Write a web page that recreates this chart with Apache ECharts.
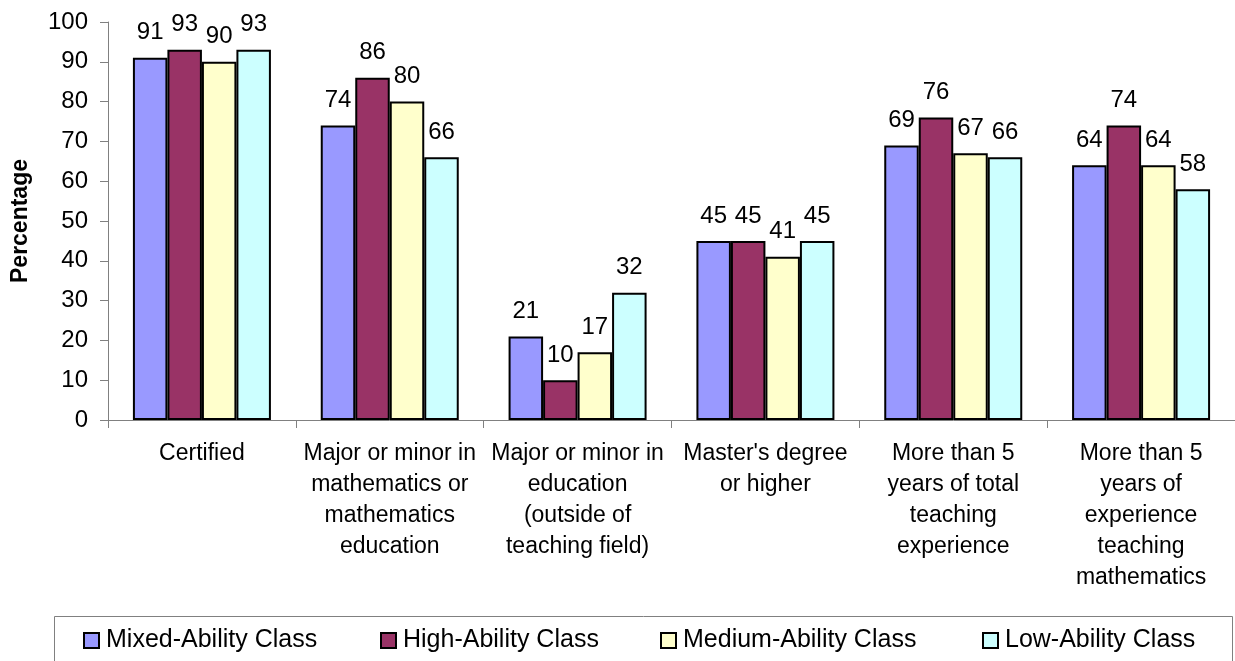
<!DOCTYPE html>
<html>
<head>
<meta charset="utf-8">
<script src="https://cdn.jsdelivr.net/npm/echarts@6/dist/echarts.min.js"></script>
<style>
  html, body { margin: 0; padding: 0; background: #fff; }
  #chart { width: 1235px; height: 661px; }
</style>
</head>
<body>
<div id="chart"></div>
<script>
// Teacher qualifications by class ability level (percentages)
const categories = [
  "Certified",
  "Major or minor in\nmathematics or\nmathematics\neducation",
  "Major or minor in\neducation\n(outside of\nteaching field)",
  "Master's degree\nor higher",
  "More than 5\nyears of total\nteaching\nexperience",
  "More than 5\nyears of\nexperience\nteaching\nmathematics"
];
const seriesNames = ["Mixed-Ability Class", "High-Ability Class", "Medium-Ability Class", "Low-Ability Class"];
const mixedAbility = [91, 74, 21, 45, 69, 64];
const highAbility = [93, 86, 10, 45, 76, 74];
const mediumAbility = [90, 80, 17, 41, 67, 64];
const lowAbility = [93, 66, 32, 45, 66, 58];
const yTicks = { min: 0, max: 100, interval: 10 };

const colors = ["#9999FF", "#993366", "#FFFFCC", "#CCFFFF"];
const FONT = "Liberation Sans, Arial, sans-serif";
const allValues = [mixedAbility, highAbility, mediumAbility, lowAbility];

const chart = echarts.init(document.getElementById("chart"), null, { renderer: "canvas" });

const series = seriesNames.map((name, i) => ({
  name: name,
  type: "bar",
  data: allValues[i],
  barWidth: 34.5,
  barGap: "0%",
  itemStyle: { color: colors[i], borderColor: "#000", borderWidth: 2 },
  label: {
    show: true,
    position: "top",
    distance: 13,
    color: "#000",
    fontFamily: FONT,
    fontSize: 24
  },
  emphasis: { disabled: true }
}));

const legendLefts = [83, 380, 660, 982];
const legends = seriesNames.map((name, i) => ({
  data: [name],
  left: legendLefts[i],
  top: 628,
  padding: 0,
  itemWidth: 15,
  itemHeight: 15,
  itemGap: 0,
  icon: "rect",
  textStyle: { color: "#000", fontFamily: FONT, fontSize: 25, padding: [0, 0, 0, 2] },
  selectedMode: false
}));

chart.setOption({
  animation: false,
  backgroundColor: "#fff",
  grid: { left: 108, top: 22, width: 1130, height: 398, containLabel: false },
  xAxis: {
    type: "category",
    data: categories,
    axisLine: { show: true, lineStyle: { color: "#808080", width: 1 } },
    axisTick: { show: true, alignWithLabel: false, length: 8, lineStyle: { color: "#808080" } },
    axisLabel: {
      interval: 0,
      color: "#000",
      fontFamily: FONT,
      fontSize: 23,
      lineHeight: 31,
      margin: 18,
      align: "center"
    },
    splitLine: { show: false }
  },
  yAxis: {
    type: "value",
    min: yTicks.min,
    max: yTicks.max,
    interval: yTicks.interval,
    name: "Percentage",
    nameLocation: "middle",
    nameGap: 76,
    nameTextStyle: { color: "#000", fontFamily: FONT, fontSize: 23, fontWeight: "bold" },
    axisLine: { show: true, lineStyle: { color: "#808080", width: 1 } },
    axisTick: { show: true, inside: false, length: 8, lineStyle: { color: "#808080" } },
    axisLabel: { color: "#000", fontFamily: FONT, fontSize: 24, margin: 20 },
    splitLine: { show: false }
  },
  legend: legends,
  graphic: [{
    type: "rect",
    shape: { x: 54.5, y: 616.5, width: 1178, height: 60 },
    style: { fill: "none", stroke: "#808080", lineWidth: 1 },
    silent: true
  }],
  series: series
});
</script>
</body>
</html>
